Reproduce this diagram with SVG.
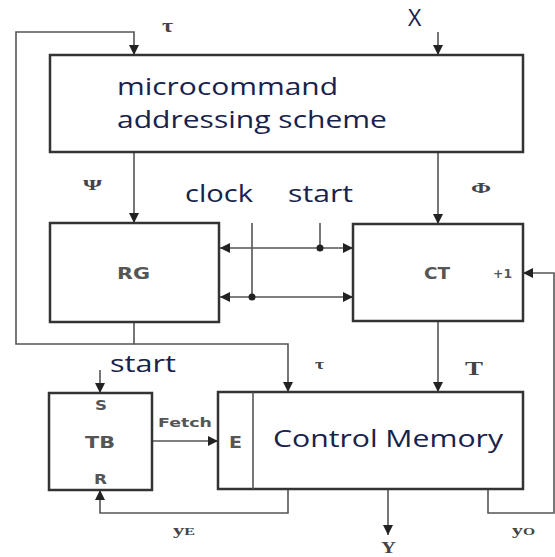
<svg xmlns="http://www.w3.org/2000/svg" width="555" height="557" viewBox="0 0 555 557">
<defs>
<marker id="arr" viewBox="0 0 10 10" refX="10" refY="5" markerWidth="10" markerHeight="10" markerUnits="userSpaceOnUse" orient="auto-start-reverse">
<path d="M0,0 L10,5 L0,10 z" fill="#222"/>
</marker>
<style>
.box{fill:#fff;stroke:#333;stroke-width:2.5}
.ln{fill:none;stroke:#555;stroke-width:1.6}
.big{font-family:"Open Sans","Liberation Sans",sans-serif;font-size:23px;fill:#17224d}
.sm{font-family:"DejaVu Sans","Liberation Sans",sans-serif;font-weight:bold;fill:#555}
.gr{font-family:"Liberation Serif",serif;font-weight:bold;fill:#444}
</style>
</defs>
<rect width="555" height="557" fill="#fff"/>

<g id="connectors">
<path class="ln" d="M134,322 V344 H16 V32 H134 V55" marker-end="url(#arr)"/>
<path class="ln" d="M134,344 H288 V392" marker-end="url(#arr)"/>
<path class="ln" d="M438,32 V55" marker-end="url(#arr)"/>
<path class="ln" d="M134,152 V223" marker-end="url(#arr)"/>
<path class="ln" d="M438,152 V224" marker-end="url(#arr)"/>
<path class="ln" d="M252,223 V297"/>
<path class="ln" d="M320,223 V248"/>
<path class="ln" d="M220,248 H353" marker-start="url(#arr)" marker-end="url(#arr)"/>
<path class="ln" d="M220,297 H353" marker-start="url(#arr)" marker-end="url(#arr)"/>
<circle cx="320" cy="248" r="3.5" fill="#222"/>
<circle cx="252" cy="297" r="3.5" fill="#222"/>
<path class="ln" d="M438,321 V392" marker-end="url(#arr)"/>
<path class="ln" d="M488,489 V513 H554 V273 H523" marker-end="url(#arr)"/>
<path class="ln" d="M288,489 V513 H100 V490" marker-end="url(#arr)"/>
<path class="ln" d="M388,489 V535" marker-end="url(#arr)"/>
<path class="ln" d="M100,370 V393" marker-end="url(#arr)"/>
<path class="ln" d="M152,441 H218" marker-end="url(#arr)"/>
</g>

<g id="labels">
<text class="gr" x="162" y="32" font-size="18" textLength="11" lengthAdjust="spacingAndGlyphs">τ</text>
<text x="408" y="26" font-family="Open Sans, Liberation Sans, sans-serif" font-size="23" fill="#17224d">X</text>
<text class="gr" x="83" y="190" font-size="15" textLength="19" lengthAdjust="spacingAndGlyphs">Ψ</text>
<text class="gr" x="471" y="193" font-size="15" textLength="20" lengthAdjust="spacingAndGlyphs">Φ</text>
<text class="big" x="185" y="202" textLength="68" lengthAdjust="spacingAndGlyphs">clock</text>
<text class="big" x="288" y="202" textLength="65" lengthAdjust="spacingAndGlyphs">start</text>
<text class="big" x="110" y="372" textLength="66" lengthAdjust="spacingAndGlyphs">start</text>
<text class="gr" x="315" y="369" font-size="14" textLength="9" lengthAdjust="spacingAndGlyphs">τ</text>
<text class="gr" x="465" y="375" font-size="18" textLength="18" lengthAdjust="spacingAndGlyphs">T</text>
<text class="sm" x="158" y="427" font-size="13" textLength="54" lengthAdjust="spacingAndGlyphs">Fetch</text>
<text class="gr" x="173" y="535" font-size="14" textLength="22" lengthAdjust="spacingAndGlyphs">y<tspan font-size="10">E</tspan></text>
<text class="gr" x="512" y="535" font-size="14" textLength="23" lengthAdjust="spacingAndGlyphs">y<tspan font-size="10">O</tspan></text>
<text class="gr" x="381" y="553" font-size="16" textLength="15" lengthAdjust="spacingAndGlyphs">Y</text>
</g>

<g id="addressing">
<rect class="box" x="50" y="55" width="473" height="97"/>
<text class="big" x="117" y="95" textLength="221" lengthAdjust="spacingAndGlyphs">microcommand</text>
<text class="big" x="117" y="128" textLength="270" lengthAdjust="spacingAndGlyphs">addressing scheme</text>
</g>

<g id="RG">
<rect class="box" x="50" y="223" width="169" height="99"/>
<text class="sm" x="117" y="279" font-size="16" textLength="33" lengthAdjust="spacingAndGlyphs">RG</text>
</g>

<g id="CT">
<rect class="box" x="353" y="224" width="170" height="97"/>
<text class="sm" x="424" y="279" font-size="16" textLength="26" lengthAdjust="spacingAndGlyphs">CT</text>
<text class="sm" x="493" y="278" font-size="12" textLength="19" lengthAdjust="spacingAndGlyphs">+1</text>
</g>

<g id="TB">
<rect class="box" x="49" y="393" width="103" height="97"/>
<text class="sm" x="95" y="410" font-size="14" textLength="12" lengthAdjust="spacingAndGlyphs">S</text>
<text class="sm" x="85" y="448" font-size="16" textLength="30" lengthAdjust="spacingAndGlyphs">TB</text>
<text class="sm" x="94" y="484" font-size="14" textLength="13" lengthAdjust="spacingAndGlyphs">R</text>
</g>

<g id="control-memory">
<rect class="box" x="218" y="392" width="305" height="97"/>
<line x1="253" y1="392" x2="253" y2="489" stroke="#555" stroke-width="1.6"/>
<text class="sm" x="229" y="448" font-size="16" textLength="13" lengthAdjust="spacingAndGlyphs">E</text>
<text class="big" x="273" y="447" textLength="230" lengthAdjust="spacingAndGlyphs">Control Memory</text>
</g>
</svg>
